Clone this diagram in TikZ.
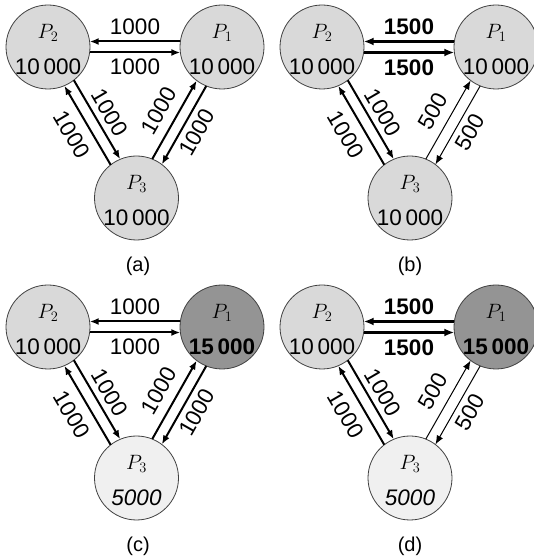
\documentclass[tikz,border=0pt]{standalone}
\usepackage{fontspec}
\setmainfont{Liberation Sans}
\usetikzlibrary{calc,arrows.meta}

\newcommand\myrad{41.7pt}
\newcommand\myoff{5.5pt}
\newcommand\flowline[8]{\draw[#1] ($(#2)!\myrad!(#3)!\myoff!#4:(#3)$) -- ($(#3)!\myrad!(#2)!\myoff!#5:(#2)$) node[elab,midway,#6] (#8) {#7};}

\tikzset{
 proc/.style={circle, draw=black!75, line width=0.8pt, fill=black!15, minimum size=84pt, inner sep=0pt},
 hot/.style={proc, fill=black!42},
 cold/.style={proc, fill=black!6},
 pname/.style={font=\fontsize{22}{22}\selectfont, inner sep=0pt, yshift=14pt},
 pval/.style={font=\fontsize{22.5}{22.5}\selectfont, inner sep=0pt, yshift=-19.5pt},
 flow/.style={line width=2pt, -{Latex[length=9pt,width=7pt]}},
 bigflow/.style={line width=3.4pt, -{Latex[length=10pt,width=8pt]}},
 smallflow/.style={line width=1pt, -{Latex[length=9pt,width=7pt]}},
 elab/.style={font=\fontsize{22.5}{22.5}\selectfont, inner sep=0pt, sloped},
 captext/.style={font=\fontsize{20}{20}\selectfont, inner sep=0pt}
}

\begin{document}
\begin{tikzpicture}[x=1pt,y=1pt]
\useasboundingbox (0,0) rectangle (534,557);

% ---------- (a) ----------
\node[proc] (a2) at (48,510) {};
\node[proc] (a1) at (222,510) {};
\node[proc] (a3) at (136.5,359) {};
\node[pname] (a2n) at (a2) {$P_2$};
\node[pval]  (a2v) at (a2) {10\,000};
\node[pname] (a1n) at (a1) {$P_1$};
\node[pval]  (a1v) at (a1) {10\,000};
\node[pname] (a3n) at (a3) {$P_3$};
\node[pval]  (a3v) at (a3) {10\,000};
\flowline{flow}{a1}{a2}{-90}{90}{above=5.5pt}{1000}{a12}
\flowline{flow}{a2}{a1}{-90}{90}{below=5.5pt}{1000}{a21}
\flowline{flow}{a2}{a3}{90}{-90}{above=5.5pt}{1000}{a23}
\flowline{flow}{a3}{a2}{90}{-90}{below=9pt}{1000}{a32}
\flowline{flow}{a3}{a1}{90}{-90}{above=9pt}{1000}{a31}
\flowline{flow}{a1}{a3}{90}{-90}{below=5.5pt}{1000}{a13}
\node[captext] (capa) at (138,291) {(a)};

% ---------- (b) ----------
\node[proc] (b2) at (322,510) {};
\node[proc] (b1) at (496,510) {};
\node[proc] (b3) at (410,359) {};
\node[pname] (b2n) at (b2) {$P_2$};
\node[pval]  (b2v) at (b2) {10\,000};
\node[pname] (b1n) at (b1) {$P_1$};
\node[pval]  (b1v) at (b1) {10\,000};
\node[pname] (b3n) at (b3) {$P_3$};
\node[pval]  (b3v) at (b3) {10\,000};
\flowline{bigflow}{b1}{b2}{-90}{90}{above=5.5pt}{\bfseries 1500}{b12}
\flowline{bigflow}{b2}{b1}{-90}{90}{below=5.5pt}{\bfseries 1500}{b21}
\flowline{flow}{b2}{b3}{90}{-90}{above=5.5pt}{1000}{b23}
\flowline{flow}{b3}{b2}{90}{-90}{below=9pt}{1000}{b32}
\flowline{smallflow}{b3}{b1}{90}{-90}{above=9pt}{500}{b31}
\flowline{smallflow}{b1}{b3}{90}{-90}{below=5.5pt}{500}{b13}
\node[captext] (capb) at (410,291) {(b)};

% ---------- (c) ----------
\node[proc] (c2) at (48,230) {};
\node[hot]  (c1) at (222,230) {};
\node[cold] (c3) at (136.5,79) {};
\node[pname] (c2n) at (c2) {$P_2$};
\node[pval]  (c2v) at (c2) {10\,000};
\node[pname] (c1n) at (c1) {$P_1$};
\node[pval]  (c1v) at (c1) {\bfseries 15\,000};
\node[pname] (c3n) at (c3) {$P_3$};
\node[pval]  (c3v) at (c3) {\itshape 5000};
\flowline{flow}{c1}{c2}{-90}{90}{above=5.5pt}{1000}{c12}
\flowline{flow}{c2}{c1}{-90}{90}{below=5.5pt}{1000}{c21}
\flowline{flow}{c2}{c3}{90}{-90}{above=5.5pt}{1000}{c23}
\flowline{flow}{c3}{c2}{90}{-90}{below=9pt}{1000}{c32}
\flowline{flow}{c3}{c1}{90}{-90}{above=9pt}{1000}{c31}
\flowline{flow}{c1}{c3}{90}{-90}{below=5.5pt}{1000}{c13}
\node[captext] (capc) at (138,11) {(c)};

% ---------- (d) ----------
\node[proc] (d2) at (322,230) {};
\node[hot]  (d1) at (496,230) {};
\node[cold] (d3) at (410,79) {};
\node[pname] (d2n) at (d2) {$P_2$};
\node[pval]  (d2v) at (d2) {10\,000};
\node[pname] (d1n) at (d1) {$P_1$};
\node[pval]  (d1v) at (d1) {\bfseries 15\,000};
\node[pname] (d3n) at (d3) {$P_3$};
\node[pval]  (d3v) at (d3) {\itshape 5000};
\flowline{bigflow}{d1}{d2}{-90}{90}{above=5.5pt}{\bfseries 1500}{d12}
\flowline{bigflow}{d2}{d1}{-90}{90}{below=5.5pt}{\bfseries 1500}{d21}
\flowline{flow}{d2}{d3}{90}{-90}{above=5.5pt}{1000}{d23}
\flowline{flow}{d3}{d2}{90}{-90}{below=9pt}{1000}{d32}
\flowline{smallflow}{d3}{d1}{90}{-90}{above=9pt}{500}{d31}
\flowline{smallflow}{d1}{d3}{90}{-90}{below=5.5pt}{500}{d13}
\node[captext] (capd) at (410,11) {(d)};
\end{tikzpicture}
\end{document}
